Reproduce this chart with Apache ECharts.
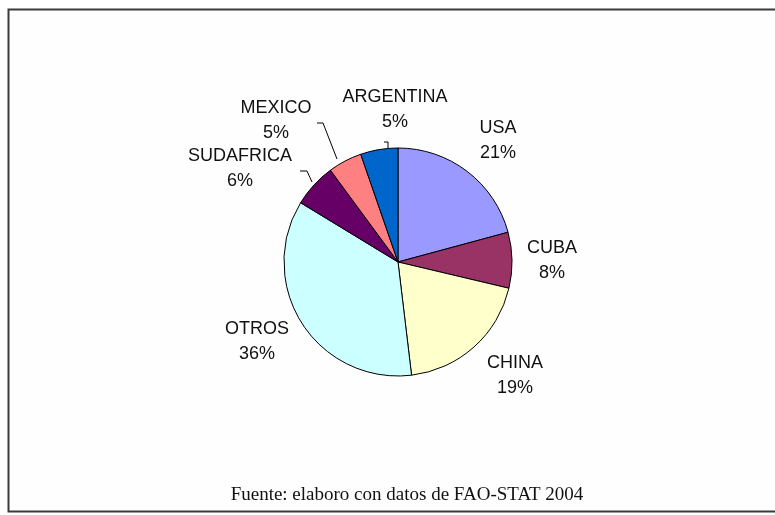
<!DOCTYPE html>
<html lang="es">
<head>
<meta charset="UTF-8">
<title>Produccion</title>
<script src="https://cdn.jsdelivr.net/npm/echarts@6/dist/echarts.min.js"></script>
<style>
  html, body { margin: 0; padding: 0; background: #fff; }
  #chart { width: 775px; height: 515px; }
</style>
</head>
<body>
<div id="chart"></div>
<script>
// datos (porcentaje aproximado)
const categories = ['USA', 'CUBA', 'CHINA', 'OTROS', 'SUDAFRICA', 'MEXICO', 'ARGENTINA'];
const shares = [20.8, 7.9, 19.4, 35.6, 6.2, 4.8, 5.3];
const colors = ['#9999ff', '#993366', '#ffffcc', '#ccffff', '#660066', '#ff8080', '#0066cc'];
const source = 'Fuente: elaboro con datos de FAO-STAT 2004';

// donde va cada etiqueta (centro del bloque de texto)
const labelPos = [[498, 141], [552, 261], [515, 376], [257, 342], [240, 169], [276, 121], [395, 110]];
// lineas guia solo para los gajos chicos
const guides = {
  4: [[312, 182], [307, 171], [300, 171]],
  5: [[337, 159], [323, 123], [317, 123]],
  6: [[388, 151], [388, 142], [384, 142]]
};

const chart = echarts.init(document.getElementById('chart'), null, { renderer: 'canvas' });

const data = categories.map((name, i) => ({
  name: name,
  value: shares[i],
  itemStyle: { color: colors[i] },
  labelLine: { show: guides[i] !== undefined }
}));

chart.setOption({
  animation: false,
  backgroundColor: '#ffffff',
  graphic: [{
    type: 'rect',
    shape: { x: 8.5, y: 9.5, width: 800, height: 502 },
    style: { fill: '#fefefe', stroke: '#3a3a3a', lineWidth: 2 },
    z: -10
  }, {
    type: 'text',
    x: 407, y: 495,
    style: {
      text: source,
      font: '19px "Liberation Serif", serif',
      fill: '#111',
      align: 'center',
      verticalAlign: 'middle'
    }
  }],
  series: [{
    type: 'pie',
    center: [398, 262],
    radius: 114,
    startAngle: 90,
    clockwise: true,
    data: data,
    itemStyle: { borderColor: '#000', borderWidth: 1 },
    label: {
      position: 'outside',
      formatter: p => p.name + '\n' + Math.round(p.percent) + '%',
      fontFamily: 'Liberation Sans, Arial, sans-serif',
      fontSize: 18,
      lineHeight: 25,
      color: '#111',
      align: 'center'
    },
    labelLine: {
      lineStyle: { color: '#000', width: 1 }
    },
    labelLayout: function (params) {
      const p = labelPos[params.dataIndex];
      const out = {
        x: p[0],
        y: p[1],
        align: 'center',
        verticalAlign: 'middle'
      };
      if (guides[params.dataIndex]) out.labelLinePoints = guides[params.dataIndex];
      return out;
    },
    emphasis: { disabled: true }
  }]
});
</script>
</body>
</html>
